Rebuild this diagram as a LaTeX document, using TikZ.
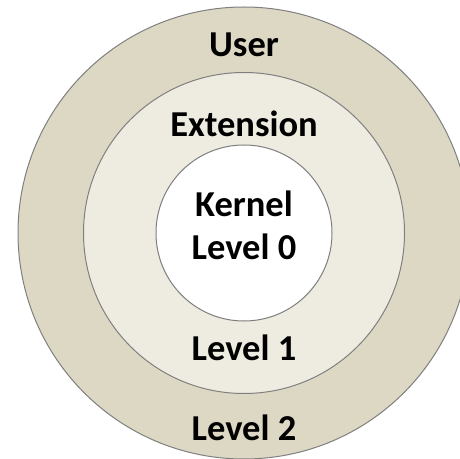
\documentclass[tikz,border=0pt]{standalone}
\usepackage{fontspec}
\setmainfont{Carlito}
\definecolor{userfill}{HTML}{DDD8C4}
\definecolor{extfill}{HTML}{EEECE1}
\definecolor{ringline}{HTML}{7F7F7F}

\begin{document}
\begin{tikzpicture}[
    x=1pt, y=1pt,
    ring/.style={circle, draw=ringline, line width=1pt, inner sep=0pt},
    label/.style={font=\fontsize{36.5}{43}\selectfont\bfseries, anchor=base, align=center, inner sep=0pt}
]
\useasboundingbox (0,0) rectangle (460,458);

\begin{scope}
\clip (0,0) rectangle (460,458);
\node[ring, fill=userfill, minimum size=452pt] (user) at (244,225) {};
\node[ring, fill=extfill, minimum size=321pt] (ext) at (244,225) {};
\node[ring, fill=white, minimum size=176pt] (kernel) at (244,225) {};
\end{scope}

\node[label] (usertxt) at (244,401) {User};
\node[label] (exttxt) at (244,321) {Extension};
\node[label] (kerneltxt) at (244,241) {Kernel};
\node[label] (lvlzero) at (244,198) {Level 0};
\node[label] (lvlone) at (244,98) {Level 1};
\node[label] (lvltwo) at (244,18) {Level 2};

\end{tikzpicture}
\end{document}
